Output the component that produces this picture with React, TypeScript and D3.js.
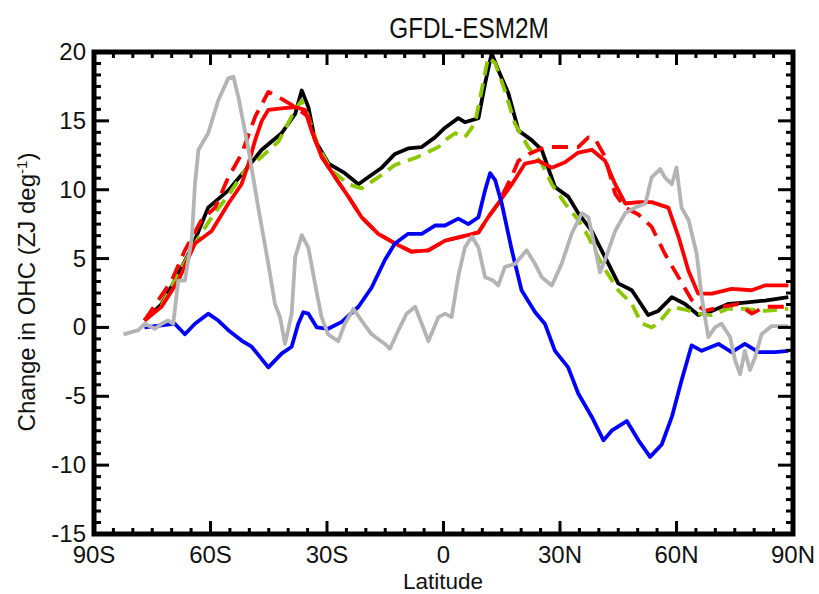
import React from 'react';
import * as d3 from 'd3';

// Change in ocean heat content per degree latitude
const totalSolid: [number, number][] = [
  [-77, 0.5], [-72.6, 1.7], [-69.2, 3.4], [-64.8, 5.8], [-60.6, 8.7], [-55.4, 9.95],
  [-51.1, 11.4], [-46.8, 12.9], [-41.7, 14.1], [-38.2, 15.5], [-36.5, 17.2], [-34.8, 16.0],
  [-33.1, 13.6], [-29.6, 11.9], [-25.4, 11.2], [-21.9, 10.4], [-19.4, 10.9], [-15.9, 11.6],
  [-12.5, 12.6], [-9.1, 13.0], [-5.6, 13.1], [-2.2, 13.8], [0.4, 14.5], [3.8, 15.2],
  [5.5, 14.9], [9.0, 15.2], [10.7, 17.7], [12.4, 19.9], [14.1, 18.7], [16.7, 17.0],
  [19.3, 14.3], [22.7, 13.6], [25.3, 12.9], [28.7, 10.2], [32.1, 9.5], [34.7, 8.3],
  [38.2, 7.0], [41.6, 5.1], [45.0, 3.2], [48.5, 2.7], [52.7, 0.9], [55.3, 1.2],
  [58.8, 2.2], [62.2, 1.7], [65.6, 0.9], [69.1, 1.2], [73.3, 1.7], [77.6, 1.8],
  [82.8, 1.95], [88.8, 2.2],
];

const totalDashed: [number, number][] = [
  [-77, 0.5], [-72.6, 1.6], [-69.2, 3.4], [-64, 6.1], [-59.7, 8.0], [-55.4, 9.6],
  [-51.1, 11.4], [-46.8, 12.4], [-42.5, 13.5], [-38.2, 15.8], [-36.5, 16.5], [-34.8, 15.3],
  [-32.2, 13.1], [-28.8, 11.4], [-24.5, 10.4], [-21.1, 10.1], [-16.8, 10.9], [-12.5, 11.8],
  [-7.3, 12.3], [-1.3, 13.1], [0.4, 13.6], [3.0, 14.1], [5.5, 13.8], [8.1, 14.8],
  [9.8, 17.2], [11.5, 19.6], [13.3, 19.2], [15.8, 17.2], [18.4, 14.8], [21.8, 13.1],
  [25.3, 11.9], [27.9, 10.4], [31.3, 9.0], [34.7, 7.8], [37.3, 6.6], [40.7, 4.6],
  [45.0, 2.7], [48.5, 1.7], [51.0, 0.3], [53.6, 0.0], [55.3, 0.3], [58.8, 1.5],
  [62.2, 1.3], [65.6, 1.0], [69.1, 0.9], [73.3, 1.35], [77.6, 1.35], [82.8, 1.2],
  [88.8, 1.35],
];

const redSolid: [number, number][] = [
  [-77, 0.5], [-72.6, 1.5], [-68.3, 3.4], [-64, 6.1], [-59.7, 7.0], [-55.4, 9.0],
  [-52, 10.4], [-50.2, 11.9], [-48.5, 13.6], [-46.8, 15.0], [-45.1, 15.8], [-41.7, 15.9],
  [-38.2, 16.0], [-35.7, 15.8], [-34.0, 14.3], [-31.4, 12.4], [-27.9, 10.9], [-24.5, 9.5],
  [-21.1, 8.0], [-16.8, 6.8], [-12.5, 6.1], [-8.2, 5.5], [-3.9, 5.6], [0.4, 6.3],
  [4.7, 6.6], [9.0, 6.9], [11.5, 8.0], [14.1, 9.0], [17.6, 10.4], [21.0, 11.9],
  [24.4, 12.1], [27.9, 11.6], [31.3, 12.0], [34.7, 12.7], [38.2, 12.9], [41.6, 12.1],
  [44.2, 10.4], [46.8, 9.0], [50.2, 9.1], [53.6, 9.1], [57.9, 8.7], [60.5, 6.6],
  [63.1, 4.1], [65.6, 2.45], [69.1, 2.45], [74.2, 2.8], [79.4, 2.7], [82.8, 3.05],
  [88.8, 3.05],
];

const redDashed: [number, number][] = [
  [-77, 0.5], [-70, 3.4], [-66.6, 5.6], [-62.3, 7.8], [-58.8, 8.7], [-55.4, 10.9],
  [-52, 12.6], [-48.5, 15.3], [-45.1, 17.1], [-41.7, 16.6], [-38.2, 16.0], [-34.8, 15.3],
  [-33.5, 14.0], [-31.4, 12.4], [-27.9, 10.9], [-24.5, 9.5], [-21.1, 8.0], [-16.8, 6.8],
  [-12.5, 6.1], [-8.2, 5.5], [-3.9, 5.6], [0.4, 6.3], [4.7, 6.6], [9.0, 6.9],
  [11.5, 8.0], [14.1, 9.0], [17.6, 11.0], [19.3, 12.1], [22, 12.6], [26.1, 13.1],
  [30.4, 13.1], [34.7, 13.1], [37.3, 13.8], [39.0, 13.7], [41.6, 12.4], [44.2, 9.7],
  [46.8, 8.7], [50.2, 8.2], [53.6, 7.3], [57.0, 5.35], [60.5, 3.65], [63.9, 2.0],
  [67.3, 1.2], [71.6, 1.5], [75.9, 1.7], [79.4, 1.0], [82.8, 1.5], [88.8, 1.5],
];

const blueSolid: [number, number][] = [
  [-77, 0.0], [-72.6, 0.15], [-69.2, 0.27], [-66.6, -0.5], [-64, 0.27], [-60.6, 1.0],
  [-58, 0.5], [-55.4, -0.2], [-52, -0.95], [-49.4, -1.4], [-45.1, -2.9], [-41.7, -1.9],
  [-39.1, -1.4], [-37.4, 0.27], [-36.1, 1.1], [-34.8, 1.0], [-32.6, 0.0], [-29.7, -0.1],
  [-26.2, 0.4], [-21.9, 1.5], [-18.5, 2.9], [-15.1, 4.9], [-12.5, 6.1], [-9.1, 6.8],
  [-5.6, 6.8], [-2.2, 7.4], [0.4, 7.4], [3.8, 7.9], [6.4, 7.5], [9.0, 8.0],
  [10.7, 9.95], [12.0, 11.2], [13.3, 10.7], [15.0, 9.0], [17.6, 5.6], [20.1, 2.7],
  [23.6, 1.1], [26.1, 0.27], [28.7, -1.7], [32.1, -2.9], [34.7, -4.8], [38.2, -6.5],
  [41.2, -8.2], [43.3, -7.5], [47.2, -6.8], [50.2, -8.2], [53.2, -9.4], [56.2, -8.5],
  [58.8, -6.5], [61.3, -3.85], [63.9, -1.3], [66.5, -1.7], [70.8, -1.2], [74.2, -1.8],
  [77.6, -1.2], [81.1, -1.8], [85.4, -1.8], [88.8, -1.7],
];

const graySolid: [number, number][] = [
  [-82.4, -0.5], [-78.6, -0.2], [-76.9, 0.27], [-74.3, -0.1], [-72.6, 0.27], [-70.9, 0.5],
  [-69.6, 0.27], [-68.3, 3.4], [-66.6, 3.4], [-64.8, 6.5], [-64, 10.4], [-63.1, 12.9],
  [-60.6, 14.1], [-58, 16.5], [-55.4, 18.1], [-54.1, 18.2], [-52.8, 16.7], [-50.2, 12.9],
  [-47.7, 8.7], [-45.1, 4.6], [-43.4, 1.7], [-42.1, 0.75], [-40.8, -1.2], [-39.1, 1.0],
  [-38.2, 5.1], [-36.5, 6.7], [-34.8, 5.8], [-33.1, 3.2], [-31.4, 0.75], [-29.7, -0.5],
  [-27.1, -1.0], [-25.4, 0.27], [-23.2, 1.35], [-21.1, 0.5], [-18.5, -0.5], [-15.1, -1.2],
  [-13.8, -1.55], [-11.6, -0.2], [-9.5, 1.0], [-7.3, 1.5], [-5.6, 0.27], [-3.9, -1.0],
  [-1.3, 0.75], [0.4, 1.0], [2.1, 0.75], [3.8, 3.7], [5.5, 5.8], [7.3, 6.6],
  [9.0, 5.8], [10.7, 3.65], [12.8, 3.4], [14.1, 3.05], [15.8, 4.4], [18.4, 4.6],
  [21.4, 5.6], [23.6, 4.6], [25.3, 3.65], [27.9, 3.05], [30.4, 4.6], [33.0, 6.8],
  [35.6, 8.3], [37.3, 8.0], [39.0, 5.8], [40.3, 4.0], [41.6, 4.9], [44.2, 7.0],
  [46.8, 8.3], [49.3, 8.7], [52, 9.0], [53.6, 10.9], [55.8, 11.5], [57.0, 10.9],
  [58.8, 10.4], [60, 11.6], [61.3, 8.7], [63.1, 7.8], [65.2, 5.35], [66.5, 2.2],
  [68.2, -0.7], [69.9, 0.0], [71.6, 0.27], [73.8, -0.7], [75.1, -2.4], [76.4, -3.4],
  [77.6, -1.7], [78.9, -3.1], [80.2, -2.2], [81.9, -0.5], [84.5, 0.1], [88.8, 0.1],
];

const latTicks = [-90, -60, -30, 0, 30, 60, 90];
const latLabels = ['90S', '60S', '30S', '0', '30N', '60N', '90N'];
const ohcTicks = [-15, -10, -5, 0, 5, 10, 15, 20];

const W = 819;
const H = 594;
const left = 94;
const right = 793;
const top = 52;
const bottom = 534;
const font = '"Liberation Sans", Arial, Helvetica, sans-serif';

export default function App() {
  const x = d3.scaleLinear().domain([-90, 90]).range([left, right]);
  const y = d3.scaleLinear().domain([-15, 20]).range([bottom, top]);
  const line = d3
    .line<[number, number]>()
    .x(d => x(d[0]))
    .y(d => y(d[1]));

  const xMinor = d3.range(-90, 91, 5).filter(v => v % 30 !== 0);
  const yMinor = d3.range(-15, 20, 5 / 6).filter(v => Math.abs(v - Math.round(v / 5) * 5) > 0.01);

  const series = [
    { data: totalSolid, color: '#000000', dash: null },
    { data: totalDashed, color: '#8cc800', dash: '14,8' },
    { data: redSolid, color: '#ff0000', dash: null },
    { data: redDashed, color: '#ff0000', dash: '16,9' },
    { data: blueSolid, color: '#0000ff', dash: null },
    { data: graySolid, color: '#b4b4b4', dash: null },
  ];

  return (
    <svg
      width={W}
      height={H}
      style={{ position: 'absolute', left: 0, top: 0, background: '#fff' }}
      fontFamily={font}
    >
      <text
        transform="translate(469,38) scale(0.84,1)"
        textAnchor="middle"
        fontSize={29}
        fill="#111"
      >
        GFDL-ESM2M
      </text>

      <g fill="none" strokeLinejoin="round" strokeLinecap="butt">
        {series.map((s, i) => (
          <path
            key={i}
            d={line(s.data) || ''}
            stroke={s.color}
            strokeWidth={3.8}
            strokeDasharray={s.dash || undefined}
          />
        ))}
      </g>

      <g stroke="#000">
        {latTicks.map(v => (
          <g key={'xM' + v} strokeWidth={3}>
            <line x1={x(v)} x2={x(v)} y1={bottom} y2={bottom - 13} />
            <line x1={x(v)} x2={x(v)} y1={top} y2={top + 13} />
          </g>
        ))}
        {xMinor.map(v => (
          <g key={'xm' + v} strokeWidth={3}>
            <line x1={x(v)} x2={x(v)} y1={bottom} y2={bottom - 6} />
            <line x1={x(v)} x2={x(v)} y1={top} y2={top + 6} />
          </g>
        ))}
        {ohcTicks.map(v => (
          <g key={'yM' + v} strokeWidth={3}>
            <line x1={left} x2={left + 15} y1={y(v)} y2={y(v)} />
            <line x1={right} x2={right - 15} y1={y(v)} y2={y(v)} />
          </g>
        ))}
        {yMinor.map(v => (
          <g key={'ym' + v} strokeWidth={3}>
            <line x1={left} x2={left + 7} y1={y(v)} y2={y(v)} />
            <line x1={right} x2={right - 7} y1={y(v)} y2={y(v)} />
          </g>
        ))}
        <rect
          x={left}
          y={top}
          width={right - left}
          height={bottom - top}
          fill="none"
          strokeWidth={5}
        />
      </g>

      <g fontSize={24} fill="#111">
        {ohcTicks.map(v => (
          <text key={'yl' + v} x={left - 8} y={y(v) + 8} textAnchor="end">
            {v}
          </text>
        ))}
        {latTicks.map((v, i) => (
          <text key={'xl' + v} x={x(v)} y={563} textAnchor="middle">
            {latLabels[i]}
          </text>
        ))}
        <text x={443} y={589} textAnchor="middle" fontSize={22.5}>
          Latitude
        </text>
        <text transform="translate(35,292) rotate(-90)" textAnchor="middle">
          Change in OHC (ZJ deg
          <tspan dy={-8} fontSize={15}>-1</tspan>
          <tspan dy={8}>)</tspan>
        </text>
      </g>
    </svg>
  );
}
